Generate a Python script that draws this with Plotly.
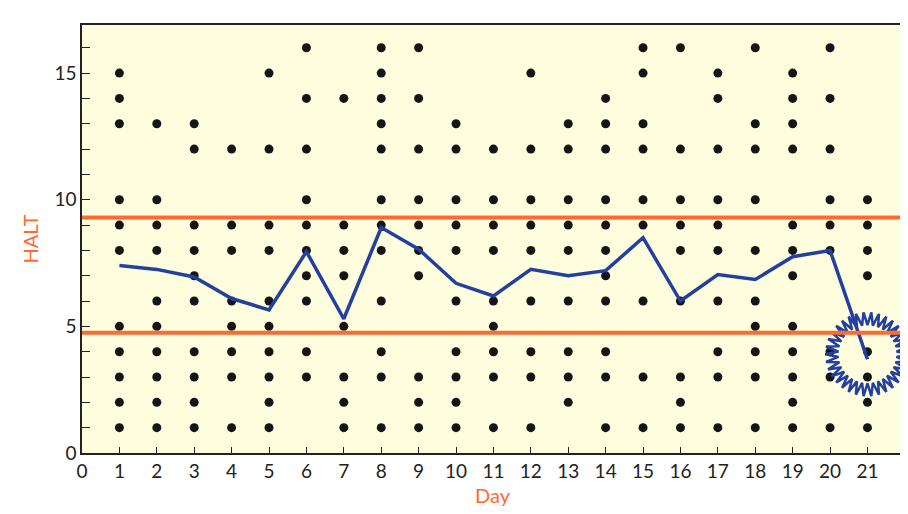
import numpy as np
import plotly.graph_objects as go

days = list(range(1, 22))
day_values = [
    [15, 14, 13, 10, 9, 8, 5, 4, 3, 2, 1],
    [13, 10, 9, 8, 6, 5, 4, 3, 2, 1],
    [13, 12, 9, 8, 7, 6, 4, 3, 2, 1],
    [12, 9, 8, 6, 5, 4, 3, 1],
    [15, 12, 9, 8, 6, 5, 4, 3, 2, 1],
    [16, 14, 12, 10, 9, 8, 7, 6, 4, 3],
    [14, 9, 8, 7, 5, 3, 2, 1],
    [16, 15, 14, 13, 12, 10, 9, 8, 6, 4, 3, 1],
    [16, 14, 12, 10, 9, 8, 7, 3, 2, 1],
    [13, 12, 10, 9, 8, 6, 4, 3, 2, 1],
    [12, 10, 9, 8, 6, 5, 4, 3, 1],
    [15, 12, 10, 9, 8, 6, 4, 3, 1],
    [13, 12, 10, 9, 8, 6, 4, 3, 2],
    [14, 13, 12, 10, 9, 8, 7, 6, 4, 3, 1],
    [16, 15, 13, 12, 10, 9, 6, 3, 1],
    [16, 12, 10, 9, 8, 6, 3, 2, 1],
    [15, 14, 12, 10, 9, 8, 6, 4, 3, 1],
    [16, 13, 12, 10, 8, 6, 5, 4, 3, 1],
    [15, 14, 13, 12, 9, 8, 7, 5, 4, 3, 2, 1],
    [16, 14, 12, 10, 9, 8, 4, 3, 1],
    [10, 9, 8, 7, 4, 3, 2, 1],
]
mean_line = [7.4, 7.25, 6.95, 6.1, 5.65, 7.95, 5.3, 8.9, 8.05, 6.7, 6.2,
             7.25, 7.0, 7.2, 8.5, 6.0, 7.05, 6.85, 7.75, 8.0, 3.7]
upper_limit = 9.3
lower_limit = 4.75
burst_day, burst_value = 21, 3.9

BLUE = "#2340a0"
ORANGE = "#ff6a30"

dot_x = [d for d, vals in zip(days, day_values) for _ in vals]
dot_y = [v for vals in day_values for v in vals]

fig = go.Figure()
fig.add_trace(go.Scatter(x=dot_x, y=dot_y, mode="markers",
                         marker=dict(color="#151515", size=9)))
for lim in (upper_limit, lower_limit):
    fig.add_hline(y=lim, line=dict(color=ORANGE, width=4))
fig.add_trace(go.Scatter(x=days, y=mean_line, mode="lines",
                         line=dict(color=BLUE, width=3.5)))

# starburst around the last point (pixel scale ~37.2 px per day, 25.3 px per unit)
n = 34
t = np.linspace(0, 2 * np.pi, n * 2 + 1)
r = np.where(np.arange(len(t)) % 2 == 0, 42, 29)
fig.add_trace(go.Scatter(x=burst_day + r * np.cos(t) / 37.2,
                         y=burst_value + r * np.sin(t) / 25.3,
                         mode="lines", line=dict(color=BLUE, width=2.5)))

fig.update_layout(
    width=908, height=514, showlegend=False,
    margin=dict(l=74, r=13, t=17, b=69),
    paper_bgcolor="white", plot_bgcolor="#fefedf",
    font=dict(family="Lato", size=19, color="#222"),
)
fig.update_xaxes(range=[0, 21.95], tickmode="linear", tick0=0, dtick=1,
                 ticks="inside", ticklen=6, tickcolor="#222",
                 showgrid=False, zeroline=False, showline=True,
                 linecolor="#222", linewidth=1.5, mirror=True,
                 title=dict(text="Day", font=dict(color=ORANGE, size=20), standoff=8))
fig.update_yaxes(range=[0, 16.9], tickvals=[0, 5, 10, 15],
                 ticks="inside", ticklen=8, tickcolor="#222",
                 minor=dict(dtick=1, ticks="inside", ticklen=8, tickcolor="#222"),
                 showgrid=False, zeroline=False, showline=True,
                 linecolor="#222", linewidth=1.5, mirror=True,
                 title=dict(text="HALT", font=dict(color=ORANGE, size=20), standoff=10))

fig.write_html("out.html")
